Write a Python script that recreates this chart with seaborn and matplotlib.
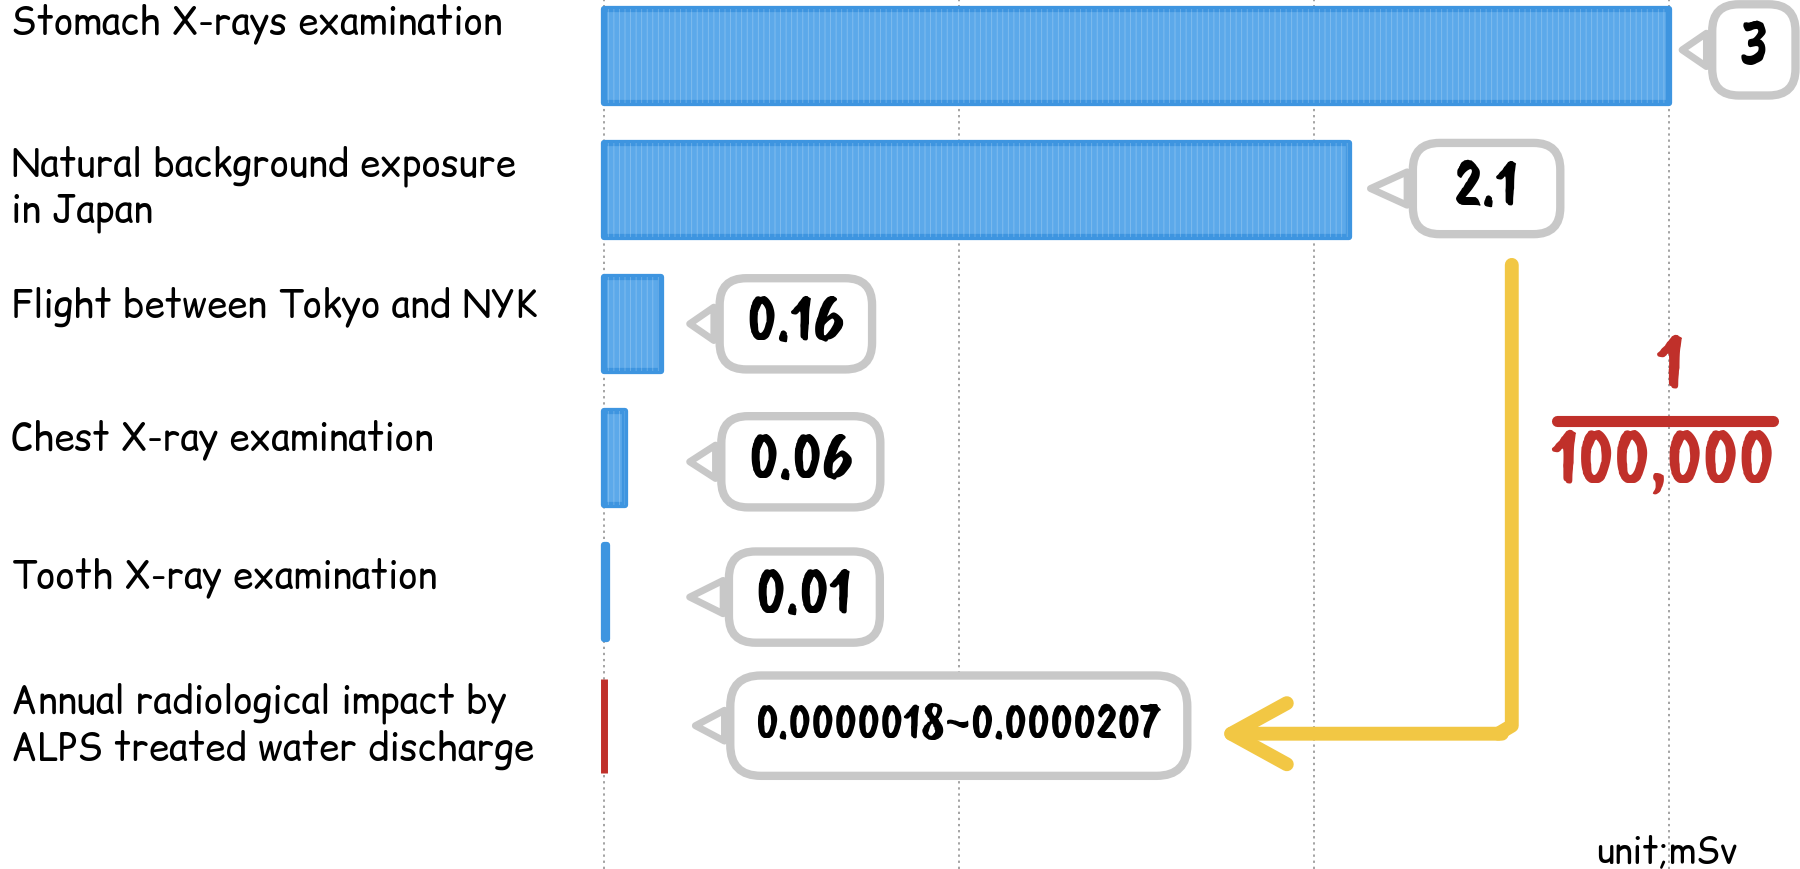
import matplotlib
matplotlib.use('Agg')
import matplotlib.pyplot as plt
import matplotlib.transforms as mtransforms
from matplotlib.patches import Rectangle
import seaborn as sns

# data
categories = ['Stomach X-rays examination',
              'Natural background exposure\nin Japan',
              'Flight between Tokyo and NYK',
              'Chest X-ray examination',
              'Tooth X-ray examination',
              'Annual radiological impact by\nALPS treated water discharge']
doses = [3.0, 2.1, 0.16, 0.06, 0.01, 0.0000207]
dose_labels = ['3', '2.1', '0.16', '0.06', '0.01', '0.0000018~0.0000207']
bar_colors = ['#5CA9EA', '#5CA9EA', '#5CA9EA', '#5CA9EA', '#5CA9EA', '#C0302A']
edge_colors = ['#3E95E0', '#3E95E0', '#3E95E0', '#3E95E0', '#3E95E0', '#C0302A']
grid_ticks = [0, 1, 2, 3]

# layout of the callouts (data coords)
bubble_x = [3.24, 2.487, 0.541, 0.555, 0.565, 1.0]
bubble_y = [-0.045, -0.01, 0.0, 0.03, 0.04, 0.0]
bubble_tip = [3.03, 2.152, 0.234, 0.234, 0.234, 0.25]
label_dy = [-0.24, -0.01, -0.13, -0.14, -0.11, 0.0]

sns.set_theme(style='white')
comic = ['Comic Relief', 'Comic Neue', 'DejaVu Sans']
hand = ['Caveat Brush', 'Gochi Hand', 'Patrick Hand', 'DejaVu Sans']
plt.rcParams['font.family'] = comic
plt.rcParams['hatch.linewidth'] = 0.6

fig = plt.figure(figsize=(18, 8.7), dpi=100)
ax = fig.add_axes([0.3333, 0, 0.6667, 1])

sns.barplot(x=doses, y=categories, hue=categories, palette=bar_colors,
            orient='h', width=0.7, legend=False, ax=ax, linewidth=3,
            saturation=1, zorder=2)

for p, ec in zip(ax.patches, edge_colors):
    p.set_edgecolor(ec)
    p.set_linewidth(5 if ec == '#C0302A' else 4.5)
    p.set_joinstyle('round')
    if ec != '#C0302A':
        # white crayon streaks inside the bar
        ax.add_patch(Rectangle(p.get_xy(), p.get_width(), p.get_height(),
                               fill=False, hatch='|||', edgecolor='white',
                               lw=0, alpha=0.25, zorder=3))

ax.set_xlim(-0.011, 3.37)
ax.set_ylim(6.07, -0.425)
ax.set_xticks(grid_ticks)
ax.set_xticklabels([])
ax.set_yticks([])
ax.set_xlabel('')
ax.set_ylabel('')
ax.grid(axis='x', linestyle=(0, (1.5, 2.5)), color='#8a8a8a', lw=1.1, zorder=0)
ax.set_axisbelow(True)
for s in ax.spines.values():
    s.set_visible(False)

# category labels on the left
tr = mtransforms.blended_transform_factory(fig.transFigure, ax.transData)
for i, (cat, dy) in enumerate(zip(categories, label_dy)):
    ax.text(0.006, i + dy, cat, transform=tr, ha='left', va='center',
            fontsize=26.5, color='black', linespacing=1.15, clip_on=False)

# speech-bubble value callouts
for i, (lab, bx, by, tip) in enumerate(zip(dose_labels, bubble_x, bubble_y, bubble_tip)):
    big = i < 5
    txt = (' %s ' % lab if i != 1 else '  %s  ' % lab) if big else lab
    ax.annotate(txt, xy=(tip, i + by), xytext=(bx, i + by),
                ha='center', va='center', fontsize=48 if big else 37,
                family=hand, color='black', zorder=5,
                bbox=dict(boxstyle='round,pad=0.2,rounding_size=0.4' if big
                          else 'round,pad=0.5,rounding_size=0.6',
                          fc='white', ec='#c8c8c8', lw=6),
                arrowprops=dict(arrowstyle='wedge,tail_width=%s,shrink_factor=0.5'
                                % (0.5 if big else 0.6),
                                fc='white', ec='#c8c8c8', lw=5))

# yellow arrow from natural background down to ALPS callout
yel = '#F2C744'
ax.plot([2.558, 2.558, 2.52], [1.56, 5.0, 5.06], color=yel, lw=10,
        solid_capstyle='round', solid_joinstyle='round', zorder=4)
ax.annotate('', xy=(1.727, 5.06), xytext=(2.53, 5.06), zorder=4,
            arrowprops=dict(arrowstyle='->,head_length=2.0,head_width=1.1',
                            mutation_scale=20, color=yel, lw=10, capstyle='round',
                            joinstyle='round', shrinkA=0, shrinkB=0))

# red 1/100,000 fraction
red = '#C0302A'
ax.text(3.003, 2.336, '1', ha='center', va='center', fontsize=60,
        family=hand, color=red)
ax.plot([2.685, 3.293], [2.724, 2.724], color=red, lw=8, solid_capstyle='round')
ax.text(2.983, 3.045, '100,000', ha='center', va='center', fontsize=58,
        family=hand, color=red)

fig.text(0.9256, 0.018, 'unit;mSv', ha='center', va='center', fontsize=25,
         color='black')

fig.savefig('out.png', dpi=100)
